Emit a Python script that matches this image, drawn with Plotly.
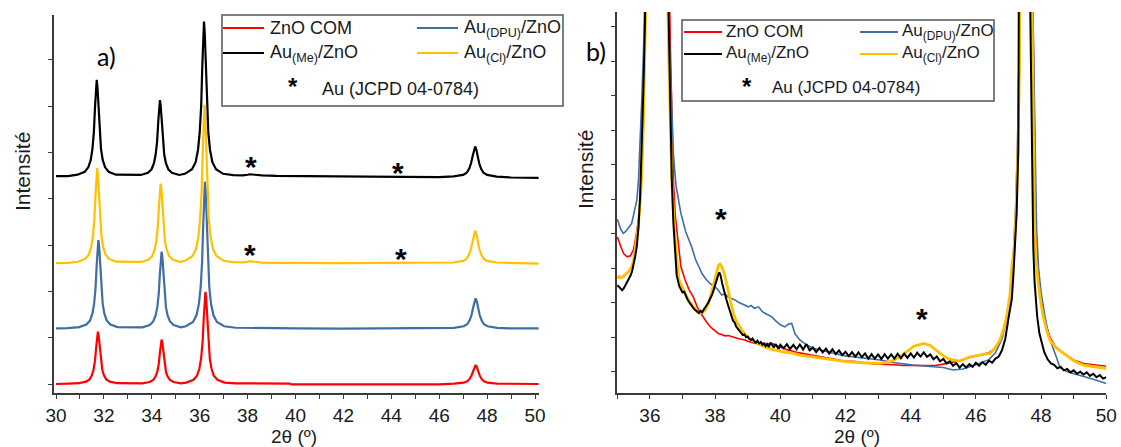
import plotly.graph_objects as go

# ---------------- DATA ----------------
series_names = ["ZnO COM", "Au(DPU)/ZnO", "Au(Cl)/ZnO", "Au(Me)/ZnO"]
series_colors = ["#FF0000", "#3E6EA6", "#FFC000", "#000000"]

# Panel a) : intensity above each pattern's own baseline, and stacking offsets
offsets_a = [0.0, 1.20, 2.61, 4.49]  # red, blue, yellow, black

a_red_x = [30.0, 30.45, 30.5,
           30.95, 31.25, 31.40, 31.50, 31.57, 31.63, 31.68, 31.72, 31.75, 31.78, 31.82, 31.87, 31.93, 32.00, 32.10, 32.25, 32.55,
           33.61, 33.91, 34.06, 34.16, 34.23, 34.29, 34.34, 34.38, 34.41, 34.44, 34.48, 34.53, 34.59, 34.66, 34.76, 34.91, 35.21,
           35.44, 35.74, 35.89, 35.99, 36.06, 36.12, 36.17, 36.21, 36.24, 36.27, 36.31, 36.36, 36.42, 36.49, 36.59, 36.74, 37.04,
           37.5, 38.5, 39.75, 39.85, 46.0,
           46.62, 47.02, 47.17, 47.27, 47.35, 47.42, 47.47, 47.52, 47.57, 47.62, 47.69, 47.77, 47.87, 48.02, 48.42, 50.15]
a_red_y = [0.0, 0.0, 0.01,
           0.017, 0.051, 0.10, 0.19, 0.32, 0.51, 0.81, 1.05, 1.13, 1.05, 0.81, 0.51, 0.32, 0.19, 0.10, 0.051, 0.017,
           0.014, 0.043, 0.086, 0.163, 0.27, 0.43, 0.69, 0.89, 0.96, 0.89, 0.69, 0.43, 0.27, 0.163, 0.086, 0.043, 0.014,
           0.03, 0.09, 0.18, 0.34, 0.56, 0.90, 1.43, 1.85, 1.99, 1.85, 1.43, 0.90, 0.56, 0.34, 0.18, 0.09, 0.03,
           0.015, 0.01, 0.01, -0.01, -0.01,
           0.008, 0.029, 0.057, 0.11, 0.185, 0.287, 0.369, 0.41, 0.369, 0.287, 0.185, 0.11, 0.057, 0.029, 0.008, 0.0]

a_blue_x = [30.0, 30.5,
            30.97, 31.27, 31.42, 31.52, 31.59, 31.65, 31.70, 31.74, 31.77, 31.80, 31.84, 31.89, 31.95, 32.02, 32.12, 32.27, 32.57,
            33.61, 33.91, 34.06, 34.16, 34.23, 34.29, 34.34, 34.38, 34.41, 34.44, 34.48, 34.53, 34.59, 34.66, 34.76, 34.91, 35.21,
            35.42, 35.72, 35.87, 35.97, 36.04, 36.10, 36.15, 36.19, 36.22, 36.25, 36.29, 36.34, 36.40, 36.47, 36.57, 36.72, 37.02,
            37.5, 38.5, 40.0, 42.0, 44.0, 46.0,
            46.62, 47.02, 47.17, 47.27, 47.35, 47.42, 47.47, 47.52, 47.57, 47.62, 47.69, 47.77, 47.87, 48.02, 48.42, 49.0, 50.15]
a_blue_y = [0.0, 0.005,
            0.029, 0.086, 0.17, 0.32, 0.53, 0.86, 1.38, 1.78, 1.91, 1.78, 1.38, 0.86, 0.53, 0.32, 0.17, 0.086, 0.029,
            0.025, 0.075, 0.15, 0.28, 0.46, 0.75, 1.2, 1.54, 1.66, 1.54, 1.2, 0.75, 0.46, 0.28, 0.15, 0.075, 0.025,
            0.048, 0.14, 0.29, 0.54, 0.89, 1.43, 2.28, 2.95, 3.17, 2.95, 2.28, 1.43, 0.89, 0.54, 0.29, 0.14, 0.048,
            0.015, 0.005, 0.0, -0.005, 0.0, 0.0,
            0.013, 0.046, 0.09, 0.176, 0.29, 0.455, 0.585, 0.65, 0.585, 0.455, 0.29, 0.176, 0.09, 0.046, 0.013, 0.0, 0.0]

a_yellow_x = [30.0, 30.5,
              30.92, 31.22, 31.37, 31.47, 31.54, 31.60, 31.65, 31.69, 31.72, 31.75, 31.79, 31.84, 31.90, 31.97, 32.07, 32.22, 32.52,
              33.57, 33.87, 34.02, 34.12, 34.19, 34.25, 34.30, 34.34, 34.37, 34.40, 34.44, 34.49, 34.55, 34.62, 34.72, 34.87, 35.17,
              35.40, 35.70, 35.85, 35.95, 36.02, 36.08, 36.13, 36.17, 36.20, 36.23, 36.27, 36.32, 36.38, 36.45, 36.55, 36.70, 37.00,
              37.4, 37.8, 38.0, 38.12, 38.3, 38.6, 39.0, 42.0,
              46.6, 47.0, 47.15, 47.25, 47.33, 47.40, 47.45, 47.50, 47.55, 47.60, 47.67, 47.75, 47.85, 48.0, 48.4, 50.15]
a_yellow_y = [0.0, 0.005,
              0.031, 0.092, 0.18, 0.35, 0.57, 0.92, 1.48, 1.91, 2.05, 1.91, 1.48, 0.92, 0.57, 0.35, 0.18, 0.092, 0.031,
              0.026, 0.077, 0.155, 0.29, 0.48, 0.77, 1.24, 1.6, 1.72, 1.6, 1.24, 0.77, 0.48, 0.29, 0.155, 0.077, 0.026,
              0.051, 0.154, 0.31, 0.58, 0.96, 1.54, 2.46, 3.18, 3.42, 3.18, 2.46, 1.54, 0.96, 0.58, 0.31, 0.154, 0.051,
              0.02, 0.015, 0.03, 0.045, 0.03, 0.01, 0.005, 0.0,
              0.014, 0.049, 0.098, 0.19, 0.315, 0.49, 0.63, 0.70, 0.63, 0.49, 0.315, 0.19, 0.098, 0.049, 0.014, -0.01]

a_black_x = [30.0, 30.5,
             30.90, 31.20, 31.35, 31.45, 31.52, 31.58, 31.63, 31.67, 31.70, 31.73, 31.77, 31.82, 31.88, 31.95, 32.05, 32.20, 32.50,
             33.54, 33.84, 33.99, 34.09, 34.16, 34.22, 34.27, 34.31, 34.34, 34.37, 34.41, 34.46, 34.52, 34.59, 34.69, 34.84, 35.14,
             35.38, 35.68, 35.83, 35.93, 36.00, 36.06, 36.11, 36.15, 36.18, 36.21, 36.25, 36.30, 36.36, 36.43, 36.53, 36.68, 36.98,
             37.4, 37.8, 38.0, 38.1, 38.3, 38.6, 39.2, 40.0, 41.0, 43.0, 46.0,
             46.6, 47.0, 47.15, 47.25, 47.33, 47.40, 47.45, 47.50, 47.55, 47.60, 47.67, 47.75, 47.85, 48.0, 48.4, 49.0, 50.15]
a_black_y = [0.0, 0.0,
             0.031, 0.094, 0.19, 0.35, 0.58, 0.94, 1.5, 1.93, 2.08, 1.93, 1.5, 0.94, 0.58, 0.35, 0.19, 0.094, 0.031,
             0.025, 0.074, 0.148, 0.28, 0.46, 0.74, 1.18, 1.53, 1.64, 1.53, 1.18, 0.74, 0.46, 0.28, 0.148, 0.074, 0.025,
             0.05, 0.15, 0.30, 0.57, 0.94, 1.5, 2.4, 3.1, 3.34, 3.1, 2.4, 1.5, 0.94, 0.57, 0.30, 0.15, 0.05,
             0.02, 0.015, 0.03, 0.04, 0.03, 0.015, 0.005, 0.0, -0.01, -0.01, -0.02,
             -0.007, 0.026, 0.072, 0.158, 0.277, 0.442, 0.574, 0.64, 0.574, 0.442, 0.277, 0.158, 0.072, 0.026, -0.01, -0.03, -0.04]

# Panel b) : zoom on the raw (non-offset) patterns
b_red_x = [35.00, 35.05, 35.10, 35.15, 35.20, 35.30, 35.40, 35.45, 35.50, 35.55, 35.60, 35.65, 35.70, 35.75, 35.80, 35.85, 35.90, 36.24,
           36.58, 36.63, 36.68, 36.72, 36.78, 36.87, 36.95, 37.08, 37.20, 37.33, 37.45, 37.55, 37.69, 37.80, 37.90, 38.00, 38.10,
           38.20, 38.30, 38.40, 38.51, 38.60, 38.70, 38.80, 38.92, 39.00, 39.10, 39.23, 39.40, 39.60, 39.74, 39.90, 40.00, 40.20,
           40.50, 40.75, 41.00, 41.25, 41.50, 41.75, 42.00, 42.25, 42.50, 42.75, 43.00, 43.25, 43.50, 43.75, 44.00, 44.25, 44.50,
           44.75, 45.00, 45.25, 45.50, 45.75, 46.00, 46.20, 46.40, 46.60, 46.75, 46.85, 46.94, 47.00, 47.05, 47.10, 47.17, 47.23,
           47.29, 47.34, 47.38, 47.55, 47.73, 47.77, 47.80, 47.83, 47.87, 47.93, 48.00, 48.10, 48.20, 48.30, 48.45, 48.70, 49.00,
           49.30, 49.60, 50.00]
b_red_y = [3.91, 3.80, 3.64, 3.52, 3.42, 3.33, 3.36, 3.45, 3.55, 3.80, 4.05, 4.40, 5.00, 5.80, 7.30, 9.30, 12.0, 150,
           12.0, 9.3, 7.0, 5.56, 4.5, 3.62, 3.05, 2.66, 2.38, 2.17, 1.88, 1.70, 1.50, 1.36, 1.26, 1.18, 1.11,
           1.08, 1.04, 1.05, 1.01, 0.98, 0.96, 0.94, 0.92, 0.88, 0.86, 0.82, 0.84, 0.80, 0.82, 0.76, 0.70, 0.64,
           0.56, 0.52, 0.46, 0.44, 0.38, 0.36, 0.30, 0.30, 0.26, 0.24, 0.22, 0.22, 0.20, 0.18, 0.18, 0.16, 0.17,
           0.18, 0.22, 0.26, 0.32, 0.40, 0.46, 0.50, 0.55, 0.68, 0.90, 1.22, 1.58, 1.92, 2.25, 2.95, 3.50, 4.60,
           6.40, 9.00, 12.0, 60, 12.0, 9.0, 6.2, 4.5, 3.4, 2.65, 2.05, 1.55, 1.20, 0.95, 0.72, 0.52, 0.34,
           0.24, 0.20, 0.16]

b_blue_x = [35.00, 35.05, 35.10, 35.18, 35.25, 35.35, 35.44, 35.50, 35.60, 35.65, 35.70, 35.75, 35.80, 35.85, 35.90, 36.22,
            36.55, 36.60, 36.66, 36.72, 36.80, 36.88, 36.95, 37.10, 37.28, 37.40, 37.49, 37.60, 37.74, 37.85, 38.00, 38.10,
            38.20, 38.30, 38.40, 38.50, 38.61, 38.70, 38.80, 38.90, 39.02, 39.10, 39.20, 39.33, 39.45, 39.60, 39.74, 39.85,
            40.00, 40.14, 40.25, 40.35, 40.45, 40.60, 40.80, 41.01, 41.30, 41.60, 42.00, 42.50, 43.06, 43.50, 44.08, 44.60,
            45.00, 45.30, 45.60, 46.00, 46.40, 46.60, 46.80, 46.90, 47.00, 47.08, 47.15, 47.22, 47.28, 47.33, 47.37, 47.55,
            47.72, 47.77, 47.82, 47.86, 47.92, 48.00, 48.12, 48.25, 48.40, 48.58, 48.80, 49.00, 49.30, 49.60, 50.00]
b_blue_y = [4.42, 4.28, 4.14, 4.01, 4.06, 4.18, 4.30, 4.55, 4.98, 5.56, 6.60, 7.90, 9.20, 10.6, 13.0, 150,
            12.0, 9.6, 7.8, 6.3, 5.4, 4.9, 4.59, 4.05, 3.62, 3.25, 3.04, 2.84, 2.66, 2.55, 2.46, 2.36,
            2.22, 2.26, 2.16, 2.12, 2.08, 2.02, 1.98, 1.92, 1.88, 1.92, 1.84, 1.88, 1.74, 1.66, 1.59, 1.48,
            1.36, 1.30, 1.38, 1.40, 1.10, 0.92, 0.78, 0.68, 0.60, 0.54, 0.46, 0.40, 0.34, 0.26, 0.19, 0.15,
            0.12, 0.05, 0.08, 0.20, 0.35, 0.55, 0.95, 1.35, 1.80, 2.50, 3.40, 4.80, 6.80, 9.50, 12.0, 60,
            12.0, 9.0, 6.0, 4.2, 3.0, 2.3, 1.59, 1.0, 0.6, 0.12, 0.0, -0.05, -0.14, -0.22, -0.34]

b_yellow_x = [35.00, 35.05, 35.10, 35.18, 35.25, 35.35, 35.44, 35.50, 35.55, 35.60, 35.64, 35.70, 35.75, 35.80, 35.85, 35.90, 36.20,
              36.52, 36.58, 36.63, 36.67, 36.73, 36.79, 36.89, 37.00, 37.08, 37.20, 37.33, 37.45, 37.54, 37.62, 37.69, 37.80,
              37.91, 38.00, 38.05, 38.10, 38.15, 38.20, 38.28, 38.35, 38.41, 38.48, 38.56, 38.65, 38.75, 38.82, 38.95, 39.12,
              39.30, 39.53, 39.75, 40.04, 40.30, 40.60, 41.00, 41.50, 42.00, 42.50, 43.06, 43.40, 43.67, 43.90, 44.10, 44.39,
              44.60, 44.90, 45.10, 45.30, 45.51, 45.82, 46.10, 46.43, 46.60, 46.74, 46.85, 46.94, 47.00, 47.05, 47.10, 47.17,
              47.23, 47.29, 47.34, 47.38, 47.52, 47.70, 47.74, 47.77, 47.80, 47.84, 47.91, 48.00, 48.07, 48.17, 48.27, 48.45,
              48.68, 49.00, 49.30, 49.60, 49.96, 50.0]
b_yellow_y = [2.71, 2.76, 2.72, 2.76, 2.82, 2.90, 3.04, 3.25, 3.55, 3.90, 4.20, 4.90, 5.70, 7.20, 9.20, 12.0, 150,
              12.0, 9.0, 7.0, 5.6, 4.5, 3.62, 2.66, 2.42, 2.27, 2.05, 1.88, 1.74, 1.69, 1.72, 1.78, 2.00,
              2.37, 2.75, 2.95, 3.08, 3.12, 3.05, 2.85, 2.55, 2.27, 1.95, 1.69, 1.46, 1.30, 1.21, 1.05, 0.92,
              0.82, 0.72, 0.65, 0.58, 0.55, 0.48, 0.43, 0.36, 0.29, 0.26, 0.24, 0.30, 0.43, 0.60, 0.74, 0.82,
              0.76, 0.53, 0.40, 0.34, 0.31, 0.43, 0.48, 0.53, 0.70, 0.92, 1.25, 1.59, 1.95, 2.27, 3.04, 3.53,
              4.60, 6.40, 9.00, 12.0, 60, 12.0, 9.0, 6.0, 4.3, 3.3, 2.57, 1.95, 1.59, 1.20, 0.92, 0.70,
              0.53, 0.32, 0.19, 0.14, 0.10, 0.10]

b_black_x = [35.00, 35.05, 35.10, 35.15, 35.20, 35.25, 35.30, 35.35, 35.40, 35.45, 35.50, 35.55, 35.60, 35.65, 35.70, 35.75,
             35.80, 35.85, 35.90, 36.18, 36.50, 36.56, 36.62, 36.67, 36.72, 36.77, 36.82, 36.90, 37.00, 37.05, 37.10, 37.15,
             37.20, 37.25, 37.30, 37.35, 37.40, 37.45, 37.50, 37.55, 37.60, 37.65, 37.70, 37.75, 37.80, 37.85, 37.90, 37.95,
             38.00, 38.05, 38.10, 38.13, 38.17, 38.22, 38.28, 38.35, 38.40, 38.45, 38.50, 38.55, 38.60, 38.65, 38.70, 38.75,
             38.80, 38.85, 38.90, 38.95, 39.00, 39.05, 39.10, 39.15, 39.20, 39.25, 39.30, 39.35, 39.40, 39.45, 39.50, 39.55,
             39.60, 39.65, 39.70, 39.75, 39.80, 39.85, 39.90, 39.95, 40.00,
             40.1, 40.2, 40.3, 40.4, 40.5, 40.6, 40.7, 40.8, 40.9, 41.0, 41.1, 41.2, 41.3, 41.4, 41.5, 41.6, 41.7, 41.8, 41.9,
             42.0, 42.1, 42.2, 42.3, 42.4, 42.5, 42.6, 42.7, 42.8, 42.9, 43.0, 43.1, 43.2, 43.3, 43.4, 43.5, 43.6, 43.7, 43.8,
             43.9, 44.0, 44.1, 44.2, 44.3, 44.4, 44.5, 44.6, 44.7, 44.8, 44.9, 45.0, 45.1, 45.2, 45.3, 45.4, 45.5, 45.6, 45.7,
             45.8, 45.9, 46.0, 46.1, 46.2, 46.3, 46.4, 46.5, 46.6,
             46.7, 46.8, 46.9, 47.0, 47.1, 47.15, 47.2, 47.25, 47.3, 47.35, 47.4, 47.5, 47.62, 47.66, 47.70, 47.73, 47.76,
             47.80, 47.85, 47.88, 47.95, 48.02, 48.1, 48.2, 48.3,
             48.4, 48.5, 48.6, 48.7, 48.8, 48.9, 49.0, 49.1, 49.2, 49.3, 49.4, 49.5, 49.6, 49.7, 49.8, 49.9, 50.0]
b_black_y = [2.51, 2.45, 2.40, 2.36, 2.42, 2.50, 2.62, 2.70, 2.78, 2.90, 3.10, 3.35, 3.65, 4.20, 5.10, 6.40,
             8.20, 10.2, 13.0, 150, 14.0, 10.6, 7.5, 5.6, 4.3, 3.4, 2.8, 2.48, 2.30, 2.32, 2.18, 2.10,
             2.02, 1.95, 1.90, 1.82, 1.78, 1.74, 1.70, 1.76, 1.72, 1.80, 1.86, 1.94, 2.02, 2.10, 2.22, 2.35,
             2.52, 2.68, 2.82, 2.88, 2.78, 2.55, 2.30, 2.08, 1.92, 1.74, 1.62, 1.48, 1.42, 1.30, 1.24, 1.18,
             1.14, 1.06, 1.08, 1.00, 1.02, 0.95, 0.92, 0.96, 0.88, 0.84, 0.90, 0.82, 0.86, 0.78, 0.82, 0.74,
             0.80, 0.72, 0.84, 0.76, 0.70, 0.80, 0.74, 0.66, 0.78,
             0.68, 0.80, 0.66, 0.78, 0.65, 0.79, 0.64, 0.80, 0.62, 0.70, 0.57, 0.69, 0.56, 0.67, 0.53, 0.65, 0.51, 0.62, 0.48,
             0.58, 0.45, 0.57, 0.44, 0.56, 0.42, 0.53, 0.38, 0.51, 0.38, 0.50, 0.37, 0.51, 0.38, 0.50, 0.38, 0.52, 0.39, 0.52,
             0.40, 0.53, 0.41, 0.55, 0.44, 0.56, 0.43, 0.50, 0.36, 0.44, 0.30, 0.37, 0.24, 0.30, 0.17, 0.25, 0.12, 0.22, 0.12,
             0.22, 0.14, 0.26, 0.17, 0.28, 0.20, 0.32, 0.26, 0.38,
             0.44, 0.62, 0.95, 1.55, 2.10, 2.80, 3.55, 4.6, 6.4, 9.6, 14.0, 60, 14.0, 10.6, 7.0, 5.0, 3.6,
             2.6, 1.95, 1.6, 1.1, 0.82, 0.56, 0.36, 0.24,
             0.20, 0.10, 0.14, 0.04, 0.08, -0.02, 0.04, -0.06, 0.0, -0.08, -0.02, -0.12, -0.06, -0.16, -0.10, -0.20, -0.16]

# Au reflections marked with asterisks
stars_a_x = [38.14, 44.26, 38.10, 44.41]
stars_a_y = [4.86, 4.73, 2.97, 2.88]
stars_b_x = [38.17, 44.36]
stars_b_y = [4.67, 1.77]

x_ticks_a = list(range(30, 51, 2))
x_ticks_b = list(range(36, 51, 2))

for xs, ys in [(a_red_x, a_red_y), (a_blue_x, a_blue_y), (a_yellow_x, a_yellow_y), (a_black_x, a_black_y),
               (b_red_x, b_red_y), (b_blue_x, b_blue_y), (b_yellow_x, b_yellow_y), (b_black_x, b_black_y)]:
    assert len(xs) == len(ys), (len(xs), len(ys))

# ---------------- FIGURE ----------------
W, H = 1121, 447
FONT = "Liberation Sans, Arial, sans-serif"
AX = "#3a3a3a"
TXT = "#1a1a1a"


def px(x):
    return x / W


def py(y):
    return 1 - y / H


fig = go.Figure()

a_sets = [(a_red_x, a_red_y), (a_blue_x, a_blue_y), (a_yellow_x, a_yellow_y), (a_black_x, a_black_y)]
for i, (xs, ys) in enumerate(a_sets):
    fig.add_trace(go.Scatter(x=xs, y=[v + offsets_a[i] for v in ys], mode="lines",
                             line=dict(color=series_colors[i], width=2.2), name=series_names[i],
                             xaxis="x", yaxis="y", showlegend=False))

b_sets = [(b_red_x, b_red_y, 1.6), (b_blue_x, b_blue_y, 1.6), (b_yellow_x, b_yellow_y, 2.8), (b_black_x, b_black_y, 2.0)]
for i, (xs, ys, w) in enumerate(b_sets):
    fig.add_trace(go.Scatter(x=xs, y=ys, mode="lines", line=dict(color=series_colors[i], width=w),
                             name=series_names[i], xaxis="x2", yaxis="y2", showlegend=False))

axis_common = dict(showline=True, linecolor=AX, linewidth=1.5, showgrid=False, zeroline=False,
                   ticks="outside", tickcolor=AX, tickwidth=1.3, automargin=False)

fig.update_layout(
    template="none",
    width=W, height=H, margin=dict(l=0, r=0, t=0, b=0, pad=0), autosize=False,
    paper_bgcolor="white", plot_bgcolor="white",
    font=dict(family=FONT, color=TXT),
    xaxis=dict(domain=[px(54), px(539)], range=[29.9165, 50.167], anchor="y",
               tickvals=x_ticks_a, ticklen=4, tickfont=dict(size=19, color=TXT),
               minor=dict(dtick=1, ticks="outside", ticklen=4, tickcolor=AX, tickwidth=1.2),
               **axis_common),
    yaxis=dict(domain=[py(393), py(15)], range=[-0.1944, 7.9698], anchor="x",
               tickvals=list(range(0, 8)), showticklabels=False, ticklen=4, **axis_common),
    xaxis2=dict(domain=[px(617), px(1106.3)], range=[34.99, 50.0], anchor="y2",
                tickvals=x_ticks_b, ticklen=4, tickfont=dict(size=19, color=TXT),
                minor=dict(dtick=1, ticks="outside", ticklen=4, tickcolor=AX, tickwidth=1.2),
                **axis_common),
    yaxis2=dict(domain=[py(393), py(12)], range=[-0.617, 10.426], anchor="x2",
                tickvals=list(range(0, 11)), showticklabels=False, ticklen=4, **axis_common),
)

ann = []
STAR_FONT = dict(size=30, family="Liberation Sans, Arial, sans-serif", color="black")
# asterisks on the curves
for sx, sy in zip(stars_a_x, stars_a_y):
    ann.append(dict(x=sx, y=sy, xref="x", yref="y", text="<b>*</b>", showarrow=False,
                    xanchor="center", yanchor="middle", font=STAR_FONT, yshift=-8))
for sx, sy in zip(stars_b_x, stars_b_y):
    ann.append(dict(x=sx, y=sy, xref="x2", yref="y2", text="<b>*</b>", showarrow=False,
                    xanchor="center", yanchor="middle", font=STAR_FONT, yshift=-8))

# panel labels
for txt, xx, yy in [("a)", 106, 56), ("b)", 596, 51)]:
    ann.append(dict(x=px(xx), y=py(yy), xref="paper", yref="paper", text=txt, showarrow=False,
                    xanchor="center", yanchor="middle",
                    font=dict(size=25, family="Lato, Liberation Sans, sans-serif", color="black")))

# axis titles
for xx, yy in [(22, 172), (585, 170)]:
    ann.append(dict(x=px(xx), y=py(yy), xref="paper", yref="paper", text="Intensité", textangle=-90,
                    xanchor="center", yanchor="middle",
                    showarrow=False, font=dict(size=21, family=FONT, color=TXT)))
for xx in [294, 857]:
    ann.append(dict(x=px(xx), y=py(436), xref="paper", yref="paper", text="2θ (º)",
                    xanchor="center", yanchor="middle",
                    showarrow=False, font=dict(size=19, family=FONT, color=TXT)))

shapes = []


def legend_box(x0, y0, x1, y1, l1, l2, t1, c2l1, c2l2, t2, r1, r2, sx, sy, tx, ty, fs):
    shapes.append(dict(type="rect", xref="paper", yref="paper", x0=px(x0), x1=px(x1), y0=py(y1), y1=py(y0),
                       line=dict(color="#555555", width=1.5), fillcolor="white", layer="below"))
    entries = [(0, l1, l2, t1, r1), (1, c2l1, c2l2, t2, r1), (3, l1, l2, t1, r2), (2, c2l1, c2l2, t2, r2)]
    labels = {0: "ZnO COM", 1: "Au<sub>(DPU)</sub>/ZnO", 3: "Au<sub>(Me)</sub>/ZnO", 2: "Au<sub>(Cl)</sub>/ZnO"}
    for idx, la, lb, tx0, yy in entries:
        shapes.append(dict(type="line", xref="paper", yref="paper", x0=px(la), x1=px(lb), y0=py(yy), y1=py(yy),
                           line=dict(color=series_colors[idx], width=2)))
        ann.append(dict(x=px(tx0), y=py(yy), xref="paper", yref="paper", text=labels[idx], showarrow=False,
                        xanchor="left", yanchor="middle", font=dict(size=fs, family=FONT, color=TXT)))
    ann.append(dict(x=px(sx), y=py(sy), xref="paper", yref="paper", text="<b>*</b>", showarrow=False,
                    xanchor="center", yanchor="middle",
                    font=dict(size=24, family=FONT, color="black"), yshift=-6))
    ann.append(dict(x=px(tx), y=py(ty), xref="paper", yref="paper", text="Au (JCPD 04-0784)", showarrow=False,
                    xanchor="left", yanchor="middle", font=dict(size=fs, family=FONT, color=TXT)))


legend_box(222, 15, 563, 106, 223, 264, 268, 417, 458, 462, 28, 53, 293, 80, 320, 89, 18)
legend_box(682, 20, 994, 101, 684, 722, 724, 860, 898, 900, 32, 54, 747, 80, 770, 88, 17)

fig.update_layout(annotations=ann, shapes=shapes)

fig.write_html("out.html", config={"displayModeBar": False},
               post_script="document.body.style.margin='0px';document.body.style.overflow='hidden';")
